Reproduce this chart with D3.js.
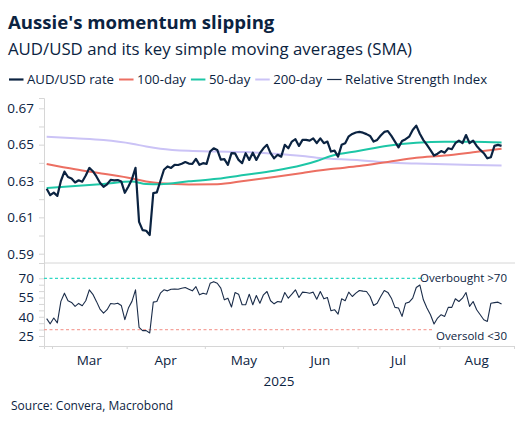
<!DOCTYPE html>
<html>
<head>
<meta charset="utf-8">
<script src="https://cdn.jsdelivr.net/npm/d3@7"></script>
<style>
  body { margin: 0; background: #fff; }
  svg { font-family: "Open Sans", sans-serif; display: block; }
</style>
</head>
<body>
<div id="chart"></div>
<script>
// AUD/USD daily close, one value per business day from 27 Feb 2025
const audUsd = [
  0.6257, 0.6222, 0.6236, 0.6218, 0.6300, 0.6352, 0.6322, 0.6314, 0.6292, 0.6304,
  0.6296, 0.6330, 0.6372, 0.6354, 0.6325, 0.6290, 0.6268, 0.6282, 0.6306, 0.6303,
  0.6305, 0.6297, 0.6235, 0.6270, 0.6310, 0.6372, 0.6075, 0.6030, 0.6026, 0.6003,
  0.6233, 0.6237, 0.6300, 0.6362, 0.6380, 0.6372, 0.6389, 0.6388, 0.6395, 0.6404,
  0.6396, 0.6394, 0.6422, 0.6389, 0.6398, 0.6394, 0.6462, 0.6480, 0.6471, 0.6418,
  0.6420, 0.6389, 0.6453, 0.6452, 0.6416, 0.6398, 0.6453, 0.6416, 0.6456, 0.6416,
  0.6453, 0.6480, 0.6499, 0.6453, 0.6425, 0.6444, 0.6434, 0.6499, 0.6480, 0.6517,
  0.6530, 0.6493, 0.6526, 0.6526, 0.6522, 0.6535, 0.6508, 0.6535, 0.6508, 0.6517,
  0.6462, 0.6467, 0.6434, 0.6499, 0.6508, 0.6546, 0.6559, 0.6567, 0.6570, 0.6566,
  0.6558, 0.6548, 0.6517, 0.6526, 0.6550, 0.6570, 0.6575, 0.6548, 0.6517, 0.6485,
  0.6520, 0.6530, 0.6544, 0.6581, 0.6605, 0.6560, 0.6525, 0.6499, 0.6470, 0.6440,
  0.6450, 0.6465, 0.6456, 0.6480, 0.6475, 0.6508, 0.6522, 0.6508, 0.6553, 0.6508,
  0.6522, 0.6493, 0.6471, 0.6453, 0.6425, 0.6431, 0.6493, 0.6499, 0.6493
];

// 14-day RSI, same days
const rsi = [
  38.5, 34.5, 39.0, 35.2, 52.0, 58.4, 52.5, 51.2, 48.1, 50.4,
  48.6, 52.5, 61.0, 57.5, 52.0, 46.0, 42.9, 45.5, 50.4, 49.9,
  50.6, 48.8, 37.7, 46.8, 52.0, 61.0, 31.8, 29.2, 29.2, 27.4,
  51.4, 51.9, 58.4, 61.0, 60.2, 61.5, 61.7, 61.5, 62.3, 62.8,
  61.5, 60.2, 63.5, 57.1, 58.4, 57.6, 66.1, 67.4, 66.1, 62.3,
  53.2, 54.5, 47.6, 58.9, 57.6, 49.4, 49.4, 57.6, 49.4, 56.6,
  50.6, 57.1, 59.7, 52.5, 50.1, 51.9, 51.4, 58.9, 54.5, 57.6,
  61.0, 55.0, 59.2, 58.9, 58.4, 59.2, 53.7, 59.7, 54.0, 55.0,
  44.7, 45.5, 42.1, 54.0, 52.5, 59.2, 55.8, 58.4, 60.5, 60.0,
  59.7, 55.8, 48.8, 50.6, 55.8, 60.5, 59.0, 54.5, 47.3, 46.8,
  40.3, 50.6, 51.4, 54.5, 62.8, 64.8, 53.2, 46.8, 41.6, 34.4,
  39.0, 41.6, 40.3, 47.3, 47.3, 54.0, 51.9, 54.5, 58.9, 48.1,
  51.9, 45.5, 41.6, 37.7, 36.4, 50.6, 51.0, 51.4, 49.9
];

// moving averages, read at these business-day positions
const smaIdx = [0, 8, 16, 24, 28, 32, 40, 48, 56, 64, 72, 76, 80, 88, 96, 104, 112, 120, 128];
const sma50  = [0.6261, 0.6272, 0.6284, 0.6297, 0.6283, 0.6282, 0.6298, 0.6312, 0.6334, 0.6356,
                0.6388, 0.6410, 0.6438, 0.6466, 0.6494, 0.6510, 0.6516, 0.6516, 0.6512];
const sma100 = [0.6394, 0.6365, 0.6340, 0.6314, 0.6297, 0.6287, 0.6281, 0.6282, 0.6302, 0.6322,
                0.6344, 0.6356, 0.6366, 0.6382, 0.6405, 0.6428, 0.6440, 0.6458, 0.6477];
const sma200 = [0.6544, 0.6535, 0.6525, 0.6505, 0.6490, 0.6478, 0.6466, 0.6462, 0.6459, 0.6450,
                0.6437, 0.6428, 0.6422, 0.6414, 0.6402, 0.6396, 0.6392, 0.6388, 0.6385];

const fxTicks = [0.59, 0.60, 0.61, 0.62, 0.63, 0.64, 0.65, 0.66, 0.67];
const fxLabels = [0.59, 0.61, 0.63, 0.65, 0.67];
const rsiTicks = [25, 30, 35, 40, 45, 50, 55, 60, 65, 70];
const rsiLabels = [25, 40, 55, 70];
const overbought = 70, oversold = 30;

const legendNames = ["AUD/USD rate", "100-day", "50-day", "200-day", "Relative Strength Index"];
const legendColors = ["#0b2341", "#ec6f62", "#1dc6a6", "#cbc3f6", "#1b2d4a"];
const legendWidths = [2.2, 2, 2, 2, 1.2];

const navy = "#0b2341", grid = "#d6d6d6";
const W = 531, H = 425;

// business days, Feb 27 2025 onwards (enough to reach the Sep 1 boundary)
const days = [];
for (let d = new Date(2025, 1, 27); days.length < 133; d.setDate(d.getDate() + 1)) {
  if (d.getDay() % 6 !== 0) days.push(new Date(d));
}

const svg = d3.select("#chart").append("svg")
  .attr("width", W).attr("height", H);

svg.append("rect").attr("width", W).attr("height", H).attr("fill", "#fff");

// titles
svg.append("text").attr("x", 8).attr("y", 29)
  .attr("font-size", 18.6).attr("font-weight", 700).attr("fill", navy)
  .text("Aussie's momentum slipping");
svg.append("text").attr("x", 8).attr("y", 55)
  .attr("font-size", 16.8).attr("fill", navy)
  .text("AUD/USD and its key simple moving averages (SMA)");

// legend
let lx = 9;
legendNames.forEach((name, i) => {
  svg.append("line")
    .attr("x1", lx).attr("x2", lx + 14.5).attr("y1", 79.5).attr("y2", 79.5)
    .attr("stroke", legendColors[i]).attr("stroke-width", legendWidths[i]);
  const t = svg.append("text").attr("x", lx + 18).attr("y", 84)
    .attr("font-size", 13.2).attr("fill", navy).text(name);
  lx += 18 + t.node().getComputedTextLength() + 5;
});

const left = 44, right = 514;
const x = d3.scaleLinear().domain([-0.75, 131.5]).range([left, right]);
const yFx = d3.scaleLinear().domain([0.58488, 0.67567]).range([263, 98]);
const yRsi = d3.scaleLinear().domain([17.2, 81.93]).range([346, 263]);

// y axes
function styleAxis(g) {
  g.select(".domain").attr("stroke", grid);
  g.selectAll(".tick line").attr("stroke", grid);
  g.selectAll(".tick text").attr("fill", navy).attr("font-size", 13.5)
    .attr("font-family", '"Open Sans", sans-serif');
}

svg.append("g").attr("transform", `translate(${left},0)`)
  .call(d3.axisLeft(yFx).tickValues(fxTicks).tickSize(5).tickPadding(5)
    .tickFormat(v => fxLabels.some(l => Math.abs(l - v) < 1e-9) ? d3.format(".2f")(v) : ""))
  .call(styleAxis);

svg.append("g").attr("transform", `translate(${left},0)`)
  .call(d3.axisLeft(yRsi).tickValues(rsiTicks).tickSize(5).tickPadding(5)
    .tickFormat(v => rsiLabels.includes(v) ? v : ""))
  .call(styleAxis);

// panel divider
svg.append("line").attr("x1", left).attr("x2", right + 1).attr("y1", 263).attr("y2", 263)
  .attr("stroke", grid);

// x axis: month boundaries on business-day index
const bounds = [];
days.forEach((d, i) => { if (i > 0 && d.getMonth() !== days[i - 1].getMonth()) bounds.push(i - 0.5); });
const xAxis = svg.append("g").attr("transform", "translate(0,346)")
  .call(d3.axisBottom(x).tickValues(bounds).tickSize(3).tickFormat(""));
xAxis.select(".domain").attr("stroke", grid);
xAxis.selectAll(".tick line").attr("stroke", grid);

const fmtMonth = d3.timeFormat("%b");
bounds.slice(0, -1).forEach((b, i) => {
  svg.append("text").attr("x", (x(b) + x(bounds[i + 1])) / 2).attr("y", 365)
    .attr("text-anchor", "middle").attr("font-size", 13.5).attr("fill", navy)
    .text(fmtMonth(days[b + 0.5]));
});
svg.append("text").attr("x", (left + right) / 2).attr("y", 386)
  .attr("text-anchor", "middle").attr("font-size", 13.5).attr("fill", navy)
  .text(days[0].getFullYear());

// RSI thresholds
svg.append("line").attr("x1", left).attr("x2", 424)
  .attr("y1", yRsi(overbought)).attr("y2", yRsi(overbought))
  .attr("stroke", "#2fd8c4").attr("stroke-width", 1.3).attr("stroke-dasharray", "3,2.5");
svg.append("line").attr("x1", left).attr("x2", 432)
  .attr("y1", yRsi(oversold)).attr("y2", yRsi(oversold))
  .attr("stroke", "#f5a49d").attr("stroke-width", 1.4).attr("stroke-dasharray", "3,2.5");
svg.append("text").attr("x", 507).attr("y", yRsi(overbought) + 4)
  .attr("text-anchor", "end").attr("font-size", 11.5).attr("fill", navy)
  .text("Overbought >" + overbought);
svg.append("text").attr("x", 507).attr("y", yRsi(oversold) + 10)
  .attr("text-anchor", "end").attr("font-size", 11.5).attr("fill", navy)
  .text("Oversold <" + oversold);

// series
const smaLine = d3.line().x((d, i) => x(smaIdx[i])).y(d => yFx(d)).curve(d3.curveMonotoneX);
[[sma200, legendColors[3]], [sma100, legendColors[1]], [sma50, legendColors[2]]].forEach(([s, c]) => {
  svg.append("path").datum(s).attr("d", smaLine)
    .attr("fill", "none").attr("stroke", c).attr("stroke-width", 2);
});

svg.append("path").datum(audUsd)
  .attr("d", d3.line().x((d, i) => x(i)).y(d => yFx(d)))
  .attr("fill", "none").attr("stroke", legendColors[0]).attr("stroke-width", 2.2)
  .attr("stroke-linejoin", "round");

svg.append("path").datum(rsi)
  .attr("d", d3.line().x((d, i) => x(i)).y(d => yRsi(d)))
  .attr("fill", "none").attr("stroke", legendColors[4]).attr("stroke-width", 1.1)
  .attr("stroke-linejoin", "round");

// source
svg.append("text").attr("x", 11).attr("y", 410)
  .attr("font-size", 12).attr("fill", navy)
  .text("Source: Convera, Macrobond");
</script>
</body>
</html>
